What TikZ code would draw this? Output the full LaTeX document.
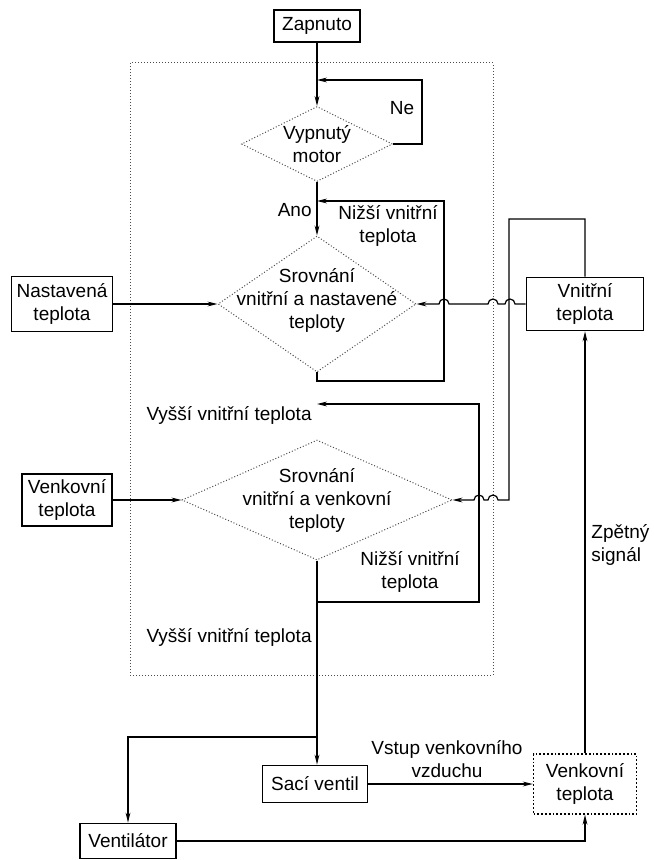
\documentclass[tikz,border=0pt]{standalone}
\usepackage{fontspec}
\setmainfont{Liberation Sans}
\usetikzlibrary{positioning,%
  arrows.meta,%
  shapes.geometric,%
  calc
}

\tikzset{
  block/.style={draw, line width=0.9pt, rectangle, align=center, inner sep=1pt},
  dblock/.style={block, densely dotted, line width=0.7pt},
  decision/.style={draw, densely dotted, gray!60!black, line width=0.5pt, diamond, inner sep=0pt},
  note/.style={align=center, inner sep=0pt, text=black},
  flow/.style={line width=0.6pt, -{Stealth[length=5pt,width=2.4pt]}},
  hump/.style={start angle=0, end angle=180, radius=2.5pt}
}

\begin{document}
\begin{tikzpicture}[x=0.5pt, y=-0.5pt, font=\fontsize{9.5}{11.5}\selectfont]
            \useasboundingbox (0,0) rectangle (653,860);
            % Rahmen
            \draw[densely dotted, gray!60!black, line width=0.5pt] (130,63) rectangle (493,675);

            \node[block, minimum width=43pt, minimum height=16pt] (zap) at (317,26) {Zapnuto};
            \node[decision, minimum width=75.5pt, minimum height=37.5pt,
                  label={[note]center:Vypnutý\\motor}] (d1) at (317,144) {};
            \node[decision, minimum width=99pt, minimum height=68pt,
                  label={[note, yshift=2pt]center:Srovnání\\vnitřní a nastavené\\teploty}] (d2) at (317,304) {};
            \node[decision, minimum width=135pt, minimum height=60pt,
                  label={[note]center:Srovnání\\vnitřní a venkovní\\teploty}] (d3) at (317,500) {};

            \node[block, minimum width=50.5pt, minimum height=27.5pt] (nast) at (62,304) {Nastavená\\teplota};
            \node[block, minimum width=58.5pt, minimum height=26.5pt] (vnitr) at (585,304) {Vnitřní\\teplota};
            \node[block, minimum width=45pt, minimum height=26pt] (venk) at (67,500) {Venkovní\\teplota};
            \node[block, minimum width=52.5pt, minimum height=18.5pt] (saci) at (315,784) {Sací ventil};
            \node[block, minimum width=48pt, minimum height=17.5pt] (vent) at (128,841) {Ventilátor};
            \node[dblock, minimum width=51.5pt, minimum height=30pt] (venk2) at (585,784) {Venkovní\\teplota};

            % Beschriftungen
            \node[note] (ne) at (402,108) {Ne};
            \node[note, anchor=east] (ano) at (312,210) {Ano};
            \node[note] (niz1) at (388,226) {Nižší vnitřní\\teplota};
            \node[note, anchor=east] (vys1) at (312,415) {Vyšší vnitřní teplota};
            \node[note] (niz2) at (410,572) {Nižší vnitřní\\teplota};
            \node[note, anchor=east] (vys2) at (312,637) {Vyšší vnitřní teplota};
            \node[note] (vstup) at (447,759) {Vstup venkovního\\vzduchu};
            \node[note, align=left, anchor=west] (zpet) at (591,545) {Zpětný\\signál};

            \coordinate (neR) at (422,80);
            \coordinate (l2a) at (444,381);
            \coordinate (l2b) at (444,201);
            \coordinate (fbT) at (509,219);
            \coordinate (l3a) at (479,602);
            \coordinate (l3b) at (479,404);
            \coordinate (split) at (317,737);

            \draw[flow] (zap) -- (d1);
            \draw[flow] (d1.east) -| (neR) -- (neR -| d1.north);
            \draw[flow] (d1) -- (d2);
            \draw[flow] (d2.south) |- (l2a) -- (l2b) -- (l2b -| d2.north);
            \draw[flow] (nast) -- (d2.west);
            \draw[flow] (vnitr.west |- d2.east) -- (515,304) arc[hump] -- (498,304) arc[hump]
                        -- (449,304) arc[hump] -- (d2.east);
            \draw[flow] (vnitr.north) |- (fbT) -- (fbT |- d3.east) -- (498,500) arc[hump]
                        -- (484,500) arc[hump] -- (d3.east);
            \draw[flow] (d3.south) |- (l3a) -- (l3b) -- (l3b -| d3.north);
            \draw[flow] (venk) -- (d3.west);
            \draw[flow] (d3.south) -- (d3.south |- saci.north);
            \draw[flow] (split) -| (vent.north);
            \draw[flow] (saci) -- (venk2);
            \draw[flow] (vent.east) -| (venk2.south);
            \draw[flow] (venk2) -- (vnitr);
\end{tikzpicture}
\end{document}
